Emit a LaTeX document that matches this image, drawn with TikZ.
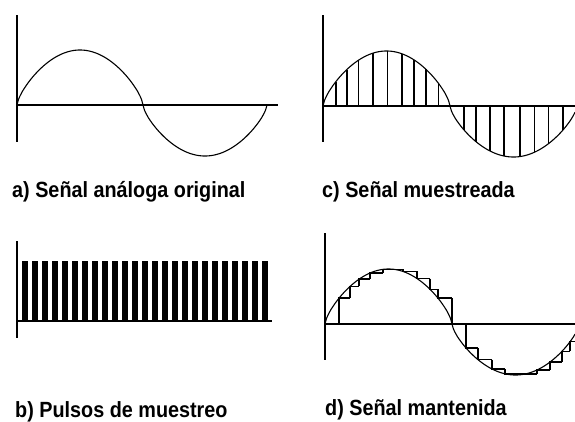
\documentclass[tikz,border=0pt]{standalone}
\usepackage{fontspec}
\newfontfamily\lblfont{Liberation Sans}[FakeStretch=0.9]
\usepackage{tikz}
\usetikzlibrary{calc}

\begin{document}
\begin{tikzpicture}[x=1pt,y=-1pt,
    declare function={hump(\u,\l)=pow(max(sin(\u/\l*180),0.0001),0.7);},
    axis/.style={line width=1.8pt},
    wave/.style={line width=1.1pt},
    sampleline/.style={line width=1.6pt},
    holdline/.style={line width=1.5pt, line join=miter},
    caption/.style={anchor=base west, inner sep=0pt,
      font=\lblfont\bfseries\fontsize{22}{25}\selectfont}]
  \useasboundingbox (0,0) rectangle (575,421);
  % --- 1. amplitudes y semiperiodo ---
  \def\aUp{55}
  \def\aDn{51}
  \def\hp{127}

  % --- 2. a) senal analoga original ---
  \draw[axis] (17,15) -- (17,142);
  \draw[axis] (17,105) -- (278,105);
  \draw[wave] plot[domain=0:126,samples=90] ({17+\x},{105-\aUp*hump(\x,126)});
  \draw[wave] plot[domain=0:124,samples=90] ({143+\x},{105+\aDn*hump(\x,124)});
  \node[caption] (lblA) at (12,197) {a) Señal análoga original};

  % --- 3. b) pulsos de muestreo ---
  \draw[axis] (17,241) -- (17,338);
  \draw[axis] (17,321) -- (272,321);
  \foreach \k in {0,...,24}
    \fill ({22+10*\k},261) rectangle ++(6,60);
  \node[caption] (lblB) at (15,417) {b) Pulsos de muestreo};

  % --- 4. c) senal muestreada ---
  \draw[axis] (323,15) -- (323,142);
  \draw[axis] (323,106) -- (575,106);
  \draw[wave] plot[domain=0:\hp,samples=90] ({323+\x},{106-\aUp*hump(\x,\hp)});
  \draw[wave] plot[domain=0:125,samples=90] ({450+\x},{106+\aDn*hump(\x,\hp)});
  \foreach \s in {12.7,23.7,35.3,49.7,64.3,78.7,91,103,115.3}
    \draw[sampleline] ({323+\s},106) -- ({323+\s},{106-\aUp*hump(\s,\hp)});
  \foreach \s in {14,26,40,54,70,84.3,98.3,112.7}
    \draw[sampleline] ({450+\s},106) -- ({450+\s},{106+\aDn*hump(\s,\hp)});
  \node[caption] (lblC) at (322,197) {c) Señal muestreada};

  % --- 5. d) senal mantenida ---
  \draw[axis] (325,233) -- (325,360);
  \draw[axis] (325,324) -- (575,324);
  \draw[wave] plot[domain=0:\hp,samples=90] ({325+\x},{324-\aUp*hump(\x,\hp)});
  \draw[wave] plot[domain=0:123,samples=90] ({452+\x},{324+\aDn*hump(\x,\hp)});
  % escalones: anterior / muestra / siguiente
  \foreach \p/\s/\n in {0/14/25,14/25/34,25/34/45,34/45/58,45/58/78,58/78/92,
                        78/92/105,92/105/113,105/113/127,113/127/127}
    \draw[holdline] ({325+\s},{324-\aUp*hump(\p,\hp)})
      -- ({325+\s},{324-\aUp*hump(\s,\hp)}) -- ({325+\n},{324-\aUp*hump(\s,\hp)});
  \foreach \p/\s/\n in {0/14/26,14/26/40,26/40/53,40/53/73,53/73/85,73/85/98,
                        85/98/110,98/110/118,110/118/124}
    \draw[holdline] ({452+\s},{324+\aDn*hump(\p,\hp)})
      -- ({452+\s},{324+\aDn*hump(\s,\hp)}) -- ({452+\n},{324+\aDn*hump(\s,\hp)});
  \node[caption] (lblD) at (325,415) {d) Señal mantenida};
\end{tikzpicture}
\end{document}
